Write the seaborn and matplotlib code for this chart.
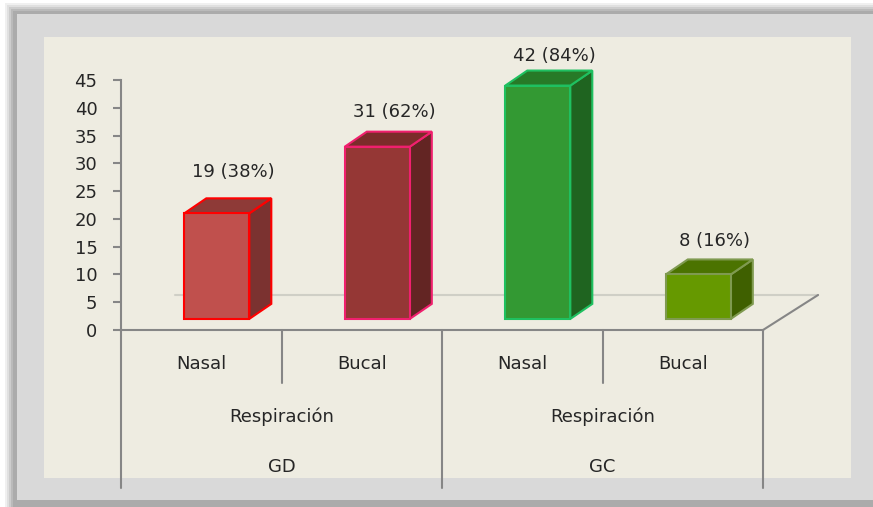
import matplotlib.pyplot as plt
import matplotlib.patches as mpatches
import seaborn as sns
import pandas as pd

# data
groups = ["GD", "GD", "GC", "GC"]
breathing = ["Nasal", "Bucal", "Nasal", "Bucal"]
counts = [19, 31, 42, 8]
percents = [38, 62, 84, 16]
mid_label = "Respiración"

front_colors = ["#c0504d", "#953735", "#339933", "#669900"]
side_colors = ["#7b3230", "#632523", "#1f6420", "#3f6000"]
top_colors = ["#8e3a37", "#7b2c2a", "#277a27", "#4b7300"]
edge_colors = ["#ff0000", "#f0206e", "#1fc060", "#7f9a50"]
# small vertical nudges of the value labels, as placed in the original
label_nudge = [7.4, 6.2, 5.3, 6.1]

df = pd.DataFrame({"group": groups, "resp": breathing, "n": counts})
df["key"] = df["group"] + "-" + df["resp"]

sns.set_style("ticks")
plt.rcParams["font.family"] = ["DejaVu Sans"]
TXT = "#262626"
AX = "#868686"

W, H = 873, 507
fig = plt.figure(figsize=(W / 100, H / 100), dpi=100)
fig.patch.set_facecolor("white")


def frect(x0, y0, x1, y1, color):
    # rectangle given in pixel coords measured from top-left
    r = mpatches.Rectangle((x0 / W, 1 - y1 / H), (x1 - x0) / W, (y1 - y0) / H,
                           transform=fig.transFigure, facecolor=color,
                           edgecolor="none", zorder=-10)
    fig.patches.append(r)


# outer frame with a soft shadow, light grey panel, cream plot area
for off, c in [(3, "#f0f0f0"), (5, "#e0e0e0"), (7, "#cdcdcd"),
               (9, "#bababa"), (11, "#ababab")]:
    frect(off + 2, off, W, H, c)
frect(17, 14, W, 500, "#d9d9d9")
frect(44, 37, 851, 478, "#eeece1")

ax = fig.add_axes([121 / W, 1 - 330 / H, 642 / W, 250 / H])
ax.set_facecolor("none")

sns.barplot(data=df, x="key", y="n", hue="key", palette=front_colors,
            width=0.405, legend=False, ax=ax, saturation=1)

base = 2.0
shift = 0.097     # front face shifted right (perspective)
dx, dy = 0.137, 2.7   # depth of the bars

for i, p in enumerate(ax.patches):
    x0 = p.get_x() + shift
    w = p.get_width()
    h = p.get_height()
    p.set_x(x0)
    p.set_y(base)
    p.set_edgecolor(edge_colors[i])
    p.set_linewidth(1.5)
    p.set_zorder(3)
    top = base + h
    side = mpatches.Polygon([(x0 + w, base), (x0 + w + dx, base + dy),
                             (x0 + w + dx, top + dy), (x0 + w, top)],
                            facecolor=side_colors[i], edgecolor=edge_colors[i],
                            linewidth=1.5, zorder=2, clip_on=False)
    cap = mpatches.Polygon([(x0, top), (x0 + dx, top + dy),
                            (x0 + w + dx, top + dy), (x0 + w, top)],
                           facecolor=top_colors[i], edgecolor=edge_colors[i],
                           linewidth=1.5, zorder=2, clip_on=False)
    ax.add_patch(side)
    ax.add_patch(cap)
    ax.text(i + 0.2, top + label_nudge[i], f"{counts[i]} ({percents[i]}%)",
            ha="center", va="center", fontsize=13, color=TXT, clip_on=False)

# floor of the 3D plot
floor_y = 6.3
ax.plot([-0.163, 3.843], [floor_y, floor_y], color="#cfcfc6", lw=1.5,
        zorder=1, clip_on=False)
ax.plot([3.5, 3.843], [0, floor_y], color=AX, lw=1.5, zorder=1, clip_on=False)

ax.set_xlim(-0.5, 3.5)
ax.set_ylim(0, 45)
ax.set_yticks(range(0, 46, 5))
ax.set_xticks([])
ax.set_xlabel("")
ax.set_ylabel("")
ax.tick_params(axis="y", length=6, width=1.5, color=AX, pad=11,
               labelsize=13, labelcolor=TXT)
for s in ["top", "right"]:
    ax.spines[s].set_visible(False)
for s in ["left", "bottom"]:
    ax.spines[s].set_color(AX)
    ax.spines[s].set_linewidth(1.5)

# multi-level category axis
tr = ax.get_xaxis_transform()
for xb in [-0.5, 1.5, 3.5]:
    ax.plot([xb, xb], [0, -0.63], color=AX, lw=1.5, transform=tr, clip_on=False)
for xb in [0.5, 2.5]:
    ax.plot([xb, xb], [0, -0.212], color=AX, lw=1.5, transform=tr, clip_on=False)
for i, r in enumerate(breathing):
    ax.text(i, -0.136, r, transform=tr, ha="center", va="center",
            fontsize=13, color=TXT)
for j, g in enumerate(["GD", "GC"]):
    xc = 2 * j + 0.5
    ax.text(xc, -0.348, mid_label, transform=tr, ha="center", va="center",
            fontsize=13, color=TXT)
    ax.text(xc, -0.548, g, transform=tr, ha="center", va="center",
            fontsize=13, color=TXT)

fig.savefig("out.png", dpi=100)
